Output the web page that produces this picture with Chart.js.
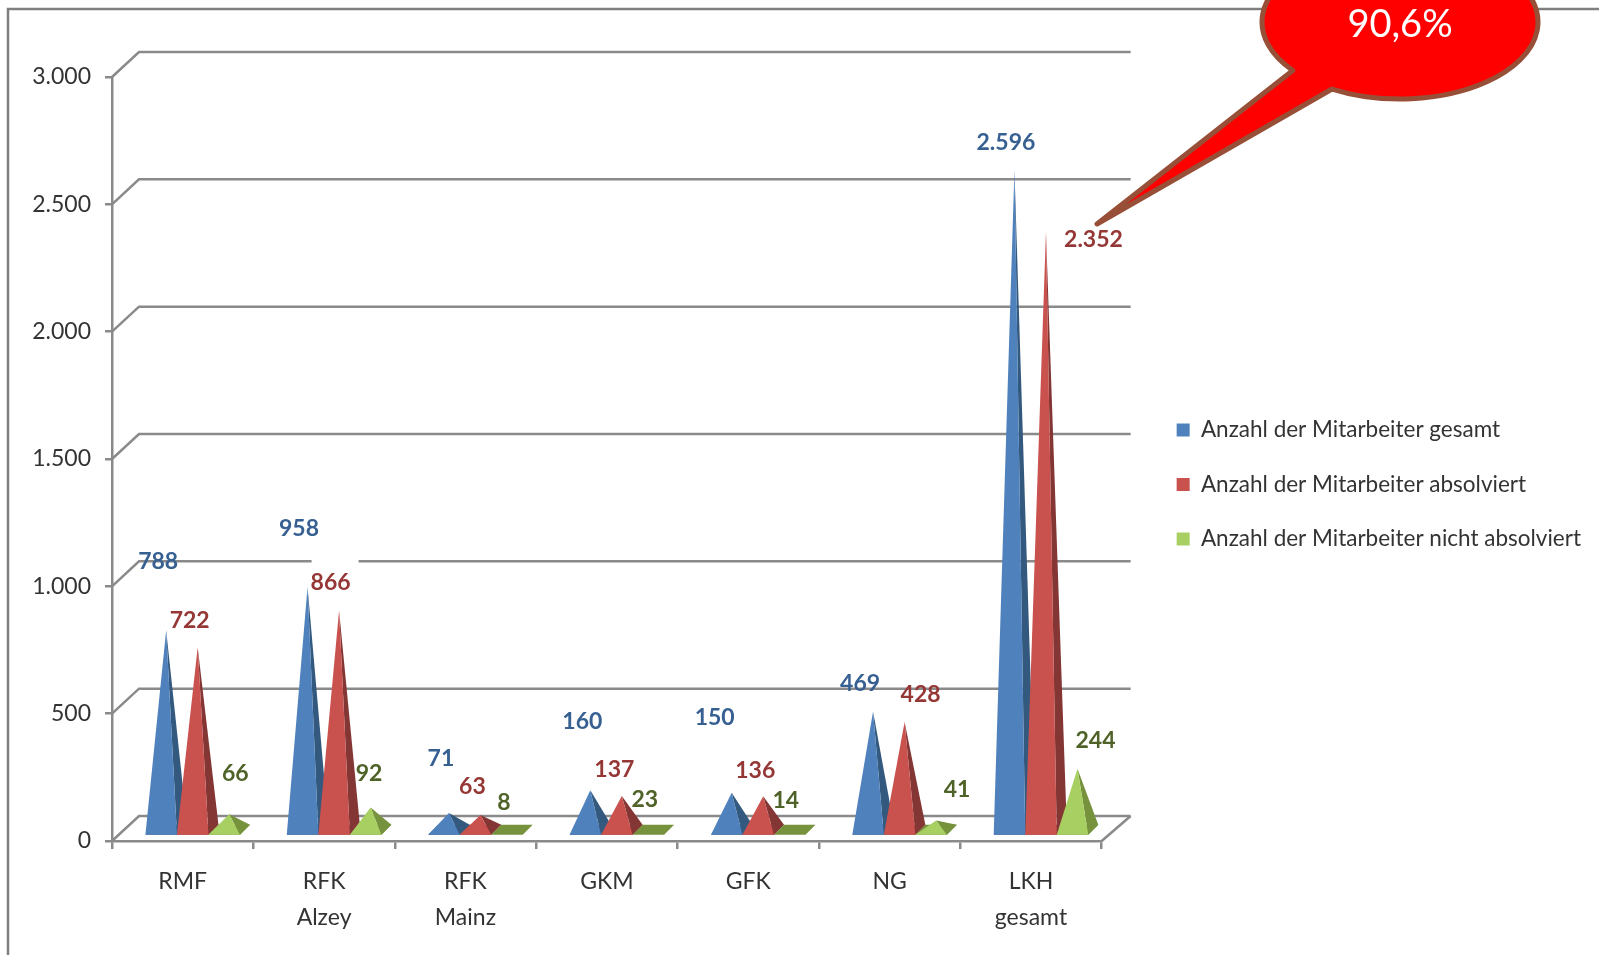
<!DOCTYPE html>
<html>
<head>
<meta charset="utf-8">
<title>Mitarbeiter</title>
<script src="https://cdn.jsdelivr.net/npm/chart.js@4"></script>
<style>
  html, body { margin: 0; padding: 0; background: #fff; overflow: hidden; }
  canvas { display: block; }
</style>
</head>
<body>
<canvas id="chart" width="1599" height="955"></canvas>
<script>
// Werte aus dem Bild
const categories = ['RMF', ['RFK', 'Alzey'], ['RFK', 'Mainz'], 'GKM', 'GFK', 'NG', ['LKH', 'gesamt']];
const gesamt = [788, 958, 71, 160, 150, 469, 2596];
const absolviert = [722, 866, 63, 137, 136, 428, 2352];
const nichtAbsolviert = [66, 92, 8, 23, 14, 41, 244];
const seriesNames = ['Anzahl der Mitarbeiter gesamt', 'Anzahl der Mitarbeiter absolviert', 'Anzahl der Mitarbeiter nicht absolviert'];
const yTickLabels = ['0', '500', '1.000', '1.500', '2.000', '2.500', '3.000'];
const calloutText = '90,6%';

// Farben: Vorderseite, Seite, Beschriftung
const frontColors = ['#4F81BD', '#C9524F', '#A8CF62'];
const sideColors = ['#34597F', '#843634', '#76923C'];
const labelColors = ['#376092', '#953735', '#4F6228'];

// Die Beschriftungen sitzen im Original von Hand verschoben neben den Spitzen
const labelDx = [[7, 6.5, 7, 7, -2, 2, 6.5], [7, 6.5, 7, 7.5, 7, 31, 62.5], [21, 13.5, 7, 6.5, 6, 36, 33]];
const labelDy = [[-79, -68, -64, -79, -85, -37.5, -37.5], [-37, -38, -38, -37, -36, -37.5, -2], [-51, -44, -36.5, -35.5, -37, -40.5, -38]];

const fontFamily = 'Lato, "Open Sans", sans-serif';
const axisColor = '#8a8a8a';
const depthX = 27, depthY = 25;

function drawWalls(ctx, chart) {
  const y = chart.scales.y, area = chart.chartArea;
  ctx.strokeStyle = axisColor;
  ctx.lineWidth = 2.5;
  y.ticks.forEach(t => {
    const py = y.getPixelForValue(t.value);
    ctx.beginPath();
    ctx.moveTo(area.left, py);
    ctx.lineTo(area.left + depthX, py - depthY);
    ctx.lineTo(area.right + 29, py - depthY);
    ctx.stroke();
  });
  // rechte Bodenkante
  ctx.beginPath();
  ctx.moveTo(area.right, area.bottom);
  ctx.lineTo(area.right + 29, area.bottom - depthY);
  ctx.stroke();
}

function drawPyramid(ctx, bar, front, side) {
  const d = 10;
  const left = bar.x - bar.width / 2 + d;
  const right = left + bar.width;
  const bottom = bar.base - 5;
  const tipX = (left + right + d) / 2;
  const tipY = bar.y - 10;

  // Grundfläche, bei ganz flachen Pyramiden bleibt nur sie sichtbar
  ctx.fillStyle = side;
  ctx.beginPath();
  ctx.moveTo(left, bottom);
  ctx.lineTo(right, bottom);
  ctx.lineTo(right + d, bottom - d);
  ctx.lineTo(left + d, bottom - d);
  ctx.closePath();
  ctx.fill();
  if (tipY > bottom - d - 3) return;

  ctx.beginPath();
  ctx.moveTo(right, bottom);
  ctx.lineTo(right + d, bottom - d);
  ctx.lineTo(tipX, tipY);
  ctx.closePath();
  ctx.fill();

  ctx.fillStyle = front;
  ctx.beginPath();
  ctx.moveTo(left, bottom);
  ctx.lineTo(right, bottom);
  ctx.lineTo(tipX, tipY);
  ctx.closePath();
  ctx.fill();
}

function drawValueLabels(ctx, chart) {
  ctx.font = 'bold 23px ' + fontFamily;
  ctx.textAlign = 'center';
  ctx.textBaseline = 'middle';
  chart.data.datasets.forEach((ds, s) => {
    chart.getDatasetMeta(s).data.forEach((bar, i) => {
      const x = bar.x + labelDx[s][i];
      const y = bar.y + labelDy[s][i];
      // das Feld hinter "866" ist im Original weiß und unterbricht die Linie
      if (ds.data[i] === 866) {
        ctx.fillStyle = '#fff';
        ctx.fillRect(x - 19, y - 27, 47, 40);
      }
      ctx.fillStyle = labelColors[s];
      ctx.fillText(ds.data[i].toLocaleString('de-DE'), x, y);
    });
  });
}

function drawCallout(ctx) {
  const cx = 1400, cy = 22, rx = 138, ry = 77;
  ctx.beginPath();
  ctx.ellipse(cx, cy, rx, ry, 0, 141 * Math.PI / 180, (360 + 119.5) * Math.PI / 180);
  ctx.lineTo(1097, 224);
  ctx.closePath();
  ctx.fillStyle = '#FF0000';
  ctx.fill();
  ctx.strokeStyle = '#984F37';
  ctx.lineWidth = 5;
  ctx.lineJoin = 'round';
  ctx.stroke();
  ctx.fillStyle = '#fff';
  ctx.font = '38px ' + fontFamily;
  ctx.textAlign = 'center';
  ctx.textBaseline = 'middle';
  ctx.fillText(calloutText, cx, cy + 3);
}

const pyramidPlugin = {
  id: 'pyramids',
  afterLayout(chart) {
    // Die Skala wird beim Zeichnen auf ihre Höhe beschnitten, zweite Zeile braucht Platz
    chart.scales.x.bottom = chart.height;
  },
  beforeDraw(chart) {
    const ctx = chart.ctx;
    ctx.save();
    // Rahmen der Folie
    ctx.strokeStyle = '#7f7f7f';
    ctx.lineWidth = 2.5;
    ctx.beginPath();
    ctx.moveTo(8, 955);
    ctx.lineTo(8, 9);
    ctx.lineTo(1599, 9);
    ctx.stroke();
    ctx.restore();
  },
  beforeDatasetsDraw(chart) {
    const ctx = chart.ctx;
    ctx.save();
    drawWalls(ctx, chart);
    // Blau zuerst, damit Rot und Grün davor liegen
    chart.data.datasets.forEach((ds, s) => {
      chart.getDatasetMeta(s).data.forEach(bar => {
        drawPyramid(ctx, bar, frontColors[s], sideColors[s]);
      });
    });
    drawValueLabels(ctx, chart);
    drawCallout(ctx);
    ctx.restore();
    return false;
  }
};

new Chart(document.getElementById('chart'), {
  type: 'bar',
  data: {
    labels: categories,
    datasets: [
      { label: seriesNames[0], data: gesamt, backgroundColor: frontColors[0], borderWidth: 0 },
      { label: seriesNames[1], data: absolviert, backgroundColor: frontColors[1], borderWidth: 0 },
      { label: seriesNames[2], data: nichtAbsolviert, backgroundColor: frontColors[2], borderWidth: 0 }
    ]
  },
  plugins: [pyramidPlugin],
  options: {
    responsive: false,
    animation: false,
    layout: { padding: { top: 77, right: 8, left: 0, bottom: 63 } },
    datasets: { bar: { barPercentage: 1, categoryPercentage: 0.669 } },
    plugins: {
      tooltip: { enabled: false },
      legend: {
        position: 'right',
        maxWidth: 480,
        labels: {
          boxWidth: 13,
          boxHeight: 13,
          padding: 32,
          color: '#333',
          font: { family: fontFamily, size: 22.5 }
        }
      }
    },
    scales: {
      x: {
        afterFit(scale) { scale.height = 51; },
        grid: { drawOnChartArea: false, color: axisColor, lineWidth: 2.5, tickLength: 8 },
        border: { color: axisColor, width: 2.5 },
        ticks: { color: '#333', padding: 15, maxRotation: 0, font: { family: fontFamily, size: 23, lineHeight: 1.55 } }
      },
      y: {
        min: 0,
        max: 3000,
        afterFit(scale) { scale.width = 112; },
        grid: { drawOnChartArea: false, color: axisColor, lineWidth: 2.5, tickLength: 7 },
        border: { color: axisColor, width: 2.5 },
        ticks: {
          stepSize: 500,
          color: '#333',
          padding: 14,
          font: { family: fontFamily, size: 23 },
          callback: (value, index) => yTickLabels[index]
        }
      },
      // leere Achse als Abstand zwischen Diagramm und Legende
      gap: {
        type: 'linear',
        position: 'right',
        grid: { display: false },
        border: { display: false },
        ticks: { display: false },
        afterFit(scale) { scale.width = 43; }
      }
    }
  }
});
</script>
</body>
</html>
